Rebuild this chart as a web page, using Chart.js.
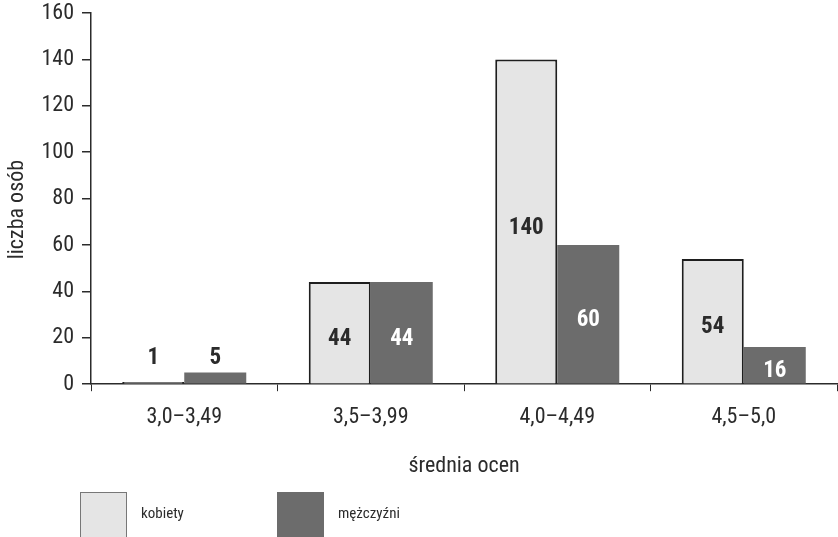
<!DOCTYPE html>
<html>
<head>
<meta charset="utf-8">
<script src="https://cdn.jsdelivr.net/npm/chart.js@4/dist/chart.umd.min.js"></script>
<style>
  html, body { margin: 0; padding: 0; background: #ffffff; }
  #wrap { width: 838px; height: 537px; position: relative; }
</style>
</head>
<body>
<div id="wrap"><canvas id="c" width="838" height="537"></canvas></div>
<script>
const categories = ['3,0–3,49', '3,5–3,99', '4,0–4,49', '4,5–5,0'];
const kobiety = [1, 44, 140, 54];
const mezczyzni = [5, 44, 60, 16];
const seriesNames = ['kobiety', 'mężczyźni'];
const yTicks = [0, 20, 40, 60, 80, 100, 120, 140, 160];
const yTitle = 'liczba osób';
const xTitle = 'średnia ocen';

const FAMILY = "Roboto, 'Open Sans', sans-serif";
const INK = '#2b2b2b';
const LIGHT = '#e5e5e5';
const DARK = '#6c6c6c';

const valueLabels = {
  id: 'valueLabels',
  afterDatasetsDraw(chart) {
    const ctx = chart.ctx;
    const y = chart.scales.y;
    ctx.save();
    ctx.font = 'condensed bold 23px ' + FAMILY;
    ctx.textAlign = 'center';
    ctx.textBaseline = 'middle';
    chart.data.datasets.forEach((ds, di) => {
      const meta = chart.getDatasetMeta(di);
      meta.data.forEach((bar, i) => {
        const v = ds.data[i];
        let ty, col;
        if (v < 10) {
          ty = y.getPixelForValue(11);
          col = INK;
        } else {
          ty = y.getPixelForValue(v / 2) + 6;
          col = di === 0 ? INK : '#ffffff';
        }
        ctx.fillStyle = col;
        ctx.fillText(String(v), bar.x, ty);
      });
    });
    ctx.restore();
  }
};

const yAxisTitle = {
  id: 'yAxisTitle',
  afterDraw(chart) {
    const ctx = chart.ctx;
    const area = chart.chartArea;
    ctx.save();
    ctx.translate(17, (area.top + area.bottom) / 2 + 11);
    ctx.rotate(-Math.PI / 2);
    ctx.font = 'condensed 22px ' + FAMILY;
    ctx.fillStyle = INK;
    ctx.textAlign = 'center';
    ctx.textBaseline = 'middle';
    ctx.fillText(yTitle, 0, 0);
    ctx.restore();
  }
};

const customLegend = {
  id: 'customLegend',
  afterDraw(chart) {
    const ctx = chart.ctx;
    const items = [
      { x: 80, tx: 141 },
      { x: 277, tx: 338 }
    ];
    ctx.save();
    chart.data.datasets.forEach((ds, i) => {
      const it = items[i];
      ctx.fillStyle = ds.backgroundColor;
      ctx.fillRect(it.x, 492, 47, 50);
      if (i === 0) {
        ctx.strokeStyle = '#777';
        ctx.lineWidth = 1;
        ctx.strokeRect(it.x + 0.5, 492.5, 46, 50);
      }
      ctx.fillStyle = INK;
      ctx.font = 'condensed 15px ' + FAMILY;
      ctx.textAlign = 'left';
      ctx.textBaseline = 'middle';
      ctx.fillText(ds.label, it.tx, 514);
    });
    ctx.restore();
  }
};

const tickFont = { family: FAMILY, size: 22, weight: 'condensed' };

new Chart(document.getElementById('c'), {
  type: 'bar',
  data: {
    labels: categories,
    datasets: [
      {
        label: seriesNames[0],
        data: kobiety,
        backgroundColor: LIGHT,
        borderColor: '#1e1e1e',
        borderWidth: 2,
        categoryPercentage: 0.665,
        barPercentage: 1.0
      },
      {
        label: seriesNames[1],
        data: mezczyzni,
        backgroundColor: DARK,
        borderColor: DARK,
        borderWidth: 0,
        categoryPercentage: 0.665,
        barPercentage: 1.0
      }
    ]
  },
  options: {
    responsive: false,
    animation: false,
    devicePixelRatio: 1,
    layout: { padding: { top: 13, right: 1, bottom: 57, left: 0 } },
    plugins: {
      legend: { display: false },
      tooltip: { enabled: false }
    },
    scales: {
      x: {
        grid: {
          offset: true,
          drawOnChartArea: false,
          drawTicks: true,
          tickLength: 7,
          color: INK,
          lineWidth: 1
        },
        border: { display: true, color: INK, width: 1.5 },
        ticks: {
          color: INK,
          font: tickFont,
          padding: 13
        },
        title: {
          display: true,
          text: xTitle,
          color: INK,
          font: tickFont,
          padding: { top: 10, bottom: 0 }
        }
      },
      y: {
        min: 0,
        max: 160,
        afterBuildTicks(scale) {
          scale.ticks = yTicks.map(v => ({ value: v }));
        },
        afterFit(scale) {
          scale.width = 91;
          scale.paddingTop = 0;
          scale.paddingBottom = 0;
        },
        grid: {
          drawOnChartArea: false,
          drawTicks: true,
          tickLength: 9,
          color: INK,
          lineWidth: 1.5
        },
        border: { display: true, color: INK, width: 1.5 },
        ticks: {
          color: INK,
          font: tickFont,
          padding: 8
        },
        title: { display: false, text: yTitle }
      }
    }
  },
  plugins: [valueLabels, yAxisTitle, customLegend]
});
</script>
</body>
</html>
